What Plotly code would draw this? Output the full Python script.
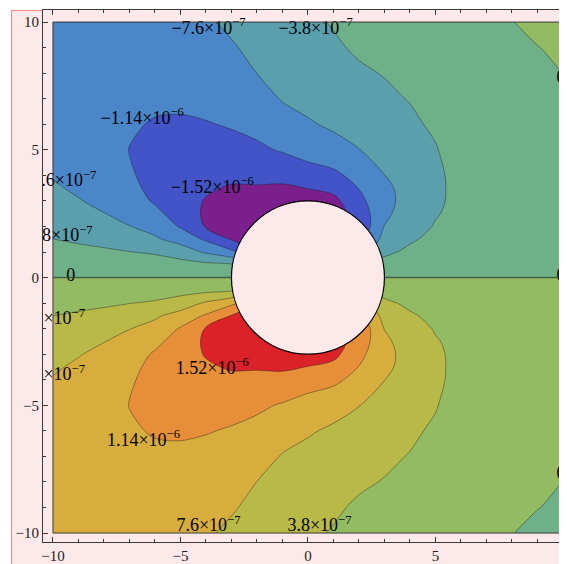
import plotly.graph_objects as go

# ---------------- data (values in units of 1e-7) ----------------
x_cols = [-10, -9, -8, -7, -6, -5, -4, -3, -2, -1, 0, 1, 2, 3, 4, 5, 6, 7, 8, 9, 10]
y_upper = [0.5, 1, 1.5, 2, 2.5, 3, 3.5, 4, 5, 6, 7, 8, 9, 10]

row_y05 = [-1.3, -1.44, -1.62, -1.85, -2.11, -2.5, -2.9, -3.3, -7.0, -5.5, -4.5, -4.3, -4.8, -2.4, -1.5, -1.0, -0.75, -0.55, -0.4, -0.28, -0.2]
row_y10 = [-2.6, -2.88, -3.25, -3.72, -4.22, -5.5, -8.1, -10.6, -14.0, -10.5, -9.0, -8.5, -9.5, -4.6, -3.0, -1.95, -1.45, -1.05, -0.75, -0.55, -0.4]
row_y15 = [-3.78, -4.3, -4.85, -5.65, -7.05, -9.1, -11.9, -15.4, -17.5, -14.5, -13.0, -12.0, -12.5, -6.3, -4.3, -2.8, -2.05, -1.5, -1.05, -0.8, -0.58]
row_y20 = [-4.75, -5.5, -6.35, -7.5, -8.9, -11.7, -15.5, -17.0, -18.5, -17.5, -16.5, -15.0, -14.5, -7.5, -5.3, -3.55, -2.5, -1.85, -1.3, -0.98, -0.72]
row_y25 = [-5.6, -6.6, -7.5, -8.8, -10.5, -13.0, -15.8, -17.3, -18.2, -19.0, -18.5, -16.5, -13.8, -8.3, -5.9, -4.05, -2.8, -2.05, -1.45, -1.1, -0.82]
row_y30 = [-6.4, -7.4, -8.5, -9.75, -11.8, -13.8, -15.4, -16.8, -17.3, -18.0, -17.5, -16.2, -12.4, -8.7, -6.2, -4.35, -2.9, -2.15, -1.55, -1.15, -0.86]
row_y35 = [-7.15, -8.15, -9.3, -10.45, -12.4, -14.2, -14.8, -15.5, -15.5, -15.8, -15.1, -14.2, -11.3, -8.4, -6.2, -4.45, -2.85, -2.15, -1.55, -1.15, -0.86]
row_y40 = [-7.8, -8.8, -9.9, -10.95, -12.7, -14.2, -14.1, -14.5, -14.3, -14.0, -13.1, -12.2, -10.2, -7.65, -5.9, -4.4, -2.8, -2.1, -1.5, -1.1, -0.82]
row_y50 = [-8.8, -9.7, -10.7, -11.45, -12.6, -13.5, -12.8, -12.6, -12.0, -11.1, -9.9, -9.0, -7.7, -5.9, -4.9, -3.95, -2.6, -1.95, -1.35, -0.95, -0.68]
row_y60 = [-9.5, -10.3, -11.05, -11.1, -11.6, -11.9, -11.6, -11.1, -10.4, -8.9, -8.0, -7.0, -5.8, -4.9, -4.2, -3.45, -2.35, -1.7, -1.1, -0.78, -0.48]
row_y70 = [-9.95, -10.6, -11.05, -10.85, -10.9, -10.6, -10.3, -9.9, -8.9, -7.4, -6.5, -5.6, -4.8, -4.2, -3.7, -3.0, -2.05, -1.4, -0.85, -0.55, -0.24]
row_y80 = [-10.1, -10.6, -10.9, -10.6, -10.3, -9.8, -9.3, -8.8, -7.58, -6.3, -5.4, -4.7, -4.1, -3.7, -3.3, -2.6, -1.75, -1.1, -0.58, -0.3, 0.01]
row_y90 = [-10.05, -10.45, -10.65, -10.35, -9.9, -9.3, -8.6, -7.9, -6.8, -5.6, -4.7, -4.1, -3.5, -3.25, -2.9, -2.3, -1.5, -0.8, -0.3, -0.03, 0.22]
row_y100 = [-9.95, -10.25, -10.4, -10.1, -9.6, -9.0, -8.0, -7.0, -6.2, -5.1, -4.2, -3.65, -3.1, -2.9, -2.55, -2.0, -1.25, -0.55, -0.03, 0.3, 0.42]

# contour levels (units of 1e-7) and band colours
level_start, level_end, level_step = -15.2, 15.2, 3.8
band_colors = ["#7b1f8c", "#4354c8", "#4a86c8", "#5a9fab", "#6eb087",
               "#93bb62", "#b9b948", "#d7ae3e", "#e78f38", "#da2228"]

# contour labels
label_texts = ["\u22127.6\u00d710<sup>\u22127</sup>", "\u22123.8\u00d710<sup>\u22127</sup>", "0",
               "\u22121.14\u00d710<sup>\u22126</sup>", "\u22121.52\u00d710<sup>\u22126</sup>",
               "\u22127.6\u00d710<sup>\u22127</sup>", "\u22123.8\u00d710<sup>\u22127</sup>", "0",
               "3.8\u00d710<sup>\u22127</sup>", "7.6\u00d710<sup>\u22127</sup>",
               "1.52\u00d710<sup>\u22126</sup>", "1.14\u00d710<sup>\u22126</sup>",
               "7.6\u00d710<sup>\u22127</sup>", "3.8\u00d710<sup>\u22127</sup>", "0", "0"]
label_x = [-3.9, 0.3, 9.92, -6.5, -3.75, -9.75, -9.9, -9.3, -10.0, -10.0, -3.75, -6.45, -3.9, 0.45, 9.92, 9.92]
label_y = [9.72, 9.72, 7.8, 6.2, 3.5, 3.75, 1.6, 0.05, -1.65, -3.85, -3.6, -6.4, -9.75, -9.75, -7.7, 0.05]

# ---------------- build full grid (lower half is the mirrored negative of the upper) ----------------
upper_rows = [row_y05, row_y10, row_y15, row_y20, row_y25, row_y30, row_y35, row_y40,
              row_y50, row_y60, row_y70, row_y80, row_y90, row_y100]
y_all = [-v for v in reversed(y_upper)] + list(y_upper)
z_all = [[-v for v in r] for r in reversed(upper_rows)] + [list(r) for r in upper_rows]

n_bands = len(band_colors)
colorscale = [[i / (n_bands - 1), c] for i, c in enumerate(band_colors)]

PINK = "#fde9e9"
FRAME = "#3a3a3a"
SERIF = "Liberation Serif"

fig = go.Figure()
fig.add_trace(go.Contour(
    x=x_cols, y=y_all, z=z_all,
    autocontour=False,
    contours=dict(start=level_start, end=level_end, size=level_step,
                  coloring="fill", showlabels=False),
    colorscale=colorscale,
    line=dict(color="rgba(25,25,25,0.45)", width=0.9, smoothing=1.0),
    showscale=False, hoverinfo="skip",
))
fig.add_trace(go.Scatter(
    x=label_x, y=label_y, mode="text", text=label_texts,
    textfont=dict(family=SERIF, size=18, color="black"),
    cliponaxis=True, hoverinfo="skip", showlegend=False,
))

# geometry: the page body adds an 8px offset, so the figure is sized to the remaining window
OFF = 8
W, H = 567 - OFF, 564 - OFF
ml, mr, mt, mb = 43 - OFF, 0, 10 - OFF, 22
pw, ph = W - ml - mr, H - mt - mb

def px_to_paper_x(px):          # px = screen pixel
    return (px - OFF - ml) / pw

def py_to_paper_y(py):
    return (H - mb - (py - OFF)) / ph

shapes = [
    # pink page area
    dict(type="rect", xref="paper", yref="paper",
         x0=px_to_paper_x(11), x1=px_to_paper_x(600),
         y0=py_to_paper_y(600), y1=py_to_paper_y(10),
         fillcolor=PINK, line=dict(width=0), layer="below"),
    dict(type="line", xref="paper", yref="paper",
         x0=px_to_paper_x(11.5), x1=px_to_paper_x(11.5),
         y0=py_to_paper_y(600), y1=py_to_paper_y(10),
         line=dict(color="#f08888", width=1), layer="below"),
    dict(type="line", xref="paper", yref="paper",
         x0=px_to_paper_x(11.5), x1=px_to_paper_x(43),
         y0=py_to_paper_y(10.5), y1=py_to_paper_y(10.5),
         line=dict(color="#f08888", width=1), layer="below"),
    # zero contour emphasised as in the original
    dict(type="line", xref="x", yref="y", x0=-10, x1=10, y0=0, y1=0,
         line=dict(color="rgba(55,85,55,0.75)", width=1.5), layer="above"),
    # field border
    dict(type="rect", xref="x", yref="y", x0=-10, x1=10, y0=-10, y1=10,
         line=dict(color=FRAME, width=1), fillcolor="rgba(0,0,0,0)", layer="above"),
    # the cylinder
    dict(type="circle", xref="x", yref="y", x0=-3, x1=3, y0=-3, y1=3,
         fillcolor=PINK, line=dict(color="black", width=1.2), layer="above"),
]

axis_common = dict(
    showgrid=False, zeroline=False, showline=True, linecolor=FRAME, linewidth=1,
    ticks="inside", ticklen=5, tickwidth=1, tickcolor=FRAME,
    tickmode="linear", tick0=0, dtick=5, automargin=False,
    minor=dict(ticks="inside", dtick=1, ticklen=3, tickwidth=1, tickcolor=FRAME),
    tickfont=dict(family=SERIF, size=15, color="#222"),
)

fig.update_layout(
    width=W, height=H,
    margin=dict(l=ml, r=mr, t=mt, b=mb, pad=0, autoexpand=False),
    paper_bgcolor="white", plot_bgcolor=PINK,
    showlegend=False,
    xaxis=dict(range=[-10.39, -10.39 + pw / 25.5], mirror="ticks", **axis_common),
    yaxis=dict(range=[-10.35, -10.35 + ph / 25.55], mirror=False, **axis_common),
    shapes=shapes,
)

fig.write_html("out.html")
